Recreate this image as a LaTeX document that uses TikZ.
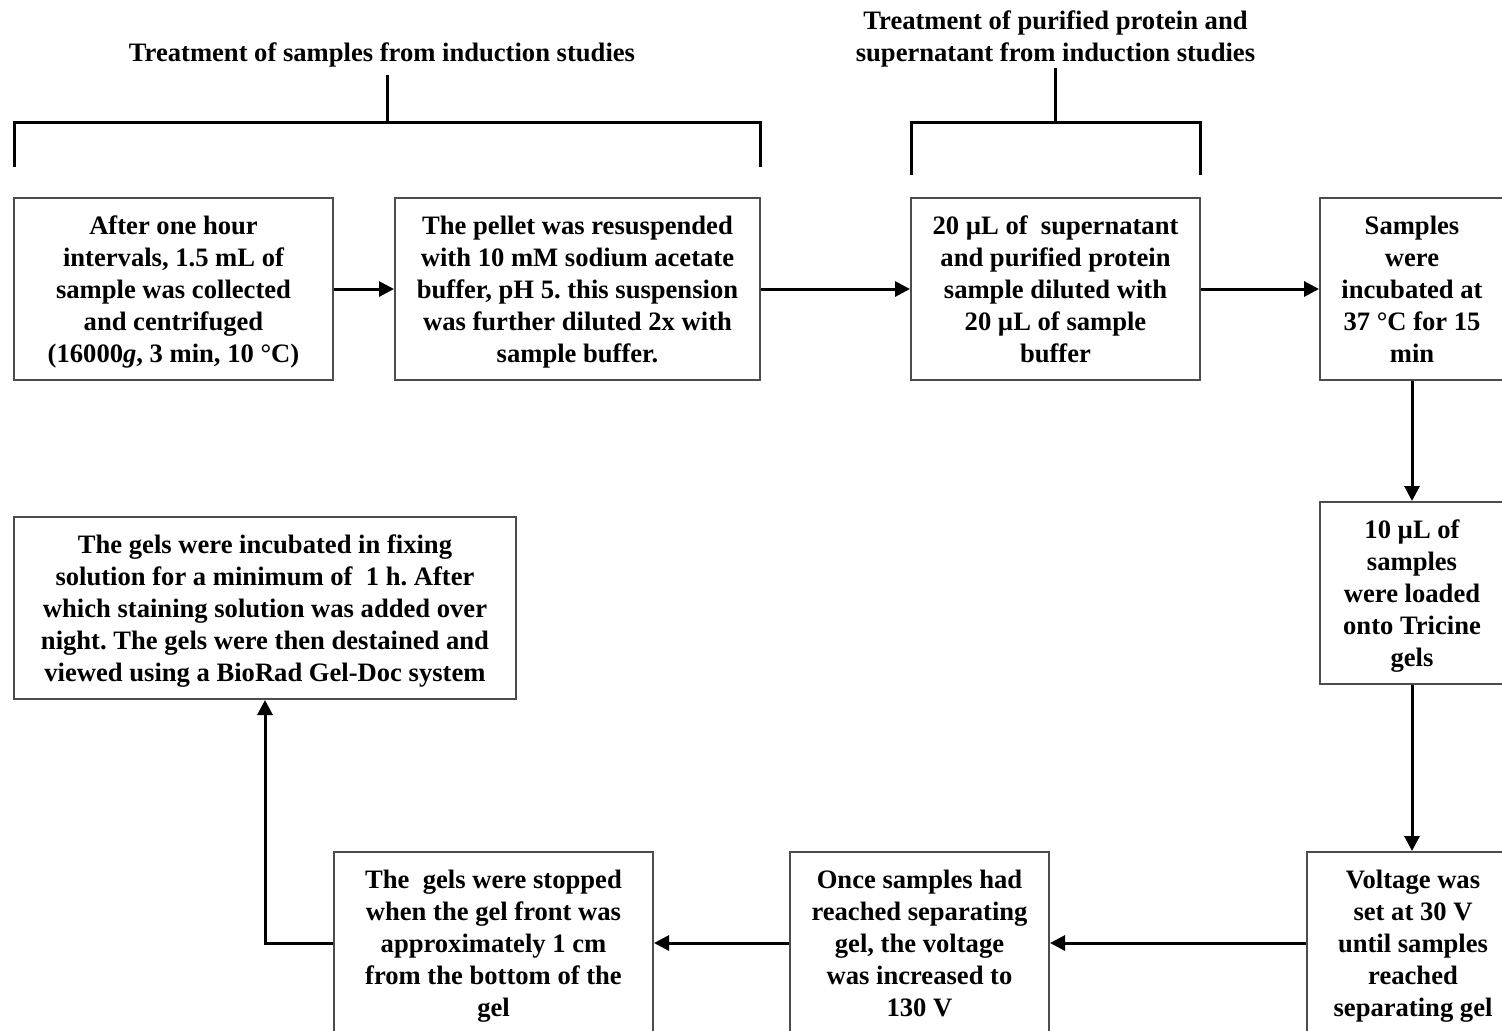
\documentclass[tikz,border=0pt]{standalone}
\usepackage{fontspec}
\setmainfont{Liberation Serif}
\usepackage{tikz}
\usetikzlibrary{arrows.meta, positioning}
\frenchspacing
\tikzset{
    stepbox/.style={rectangle, draw=gray!60!black, line width=1pt, fill=white, align=center, inner sep=0pt, font=\bfseries\fontsize{13.3}{16}\selectfont, execute at begin node=\strut, execute at end node=\strut, text depth=0pt},
    heading/.style={align=center, inner sep=0pt, font=\bfseries\fontsize{13.3}{16}\selectfont, execute at begin node=\strut, execute at end node=\strut, text depth=1pt},
    arrow/.style={-{Triangle[length=7.5pt,width=7.5pt]}, line width=1.5pt},
    bracket/.style={line width=1.5pt}
}

\begin{document}
\begin{tikzpicture}[
        x=0.5pt, y=-0.5pt,
        % Box sizes
        wide/.style={stepbox, minimum width=160pt, minimum height=91pt},
        narrow/.style={stepbox, minimum width=92pt, minimum height=91pt}
    ]

    \useasboundingbox (0,0) rectangle (1502,1030);

    % --- TOP ROW ---
    \node[wide, minimum width=159.5pt] (collect) at (173.5,289) {After one hour\\intervals, 1.5 mL of\\sample was collected\\and centrifuged\\(16000\textit{g}, 3 min, 10 °C)};
    \node[wide, minimum width=182.5pt] (pellet) at (577.5,289) {The pellet was resuspended\\with 10 mM sodium acetate\\buffer, pH 5. this suspension\\was further diluted 2x with\\sample buffer.};
    \node[wide, minimum width=144.5pt] (dilute) at (1055.5,289) {20 µL of\ \ supernatant\\and purified protein\\sample diluted with\\20 µL of sample\\buffer};
    \node[narrow] (incubate) at (1412,289) {Samples\\were\\incubated at\\37 °C for 15\\min};

    % --- RIGHT COLUMN ---
    \node[narrow] (load) at (1412,593) {10 µL of\\samples\\were loaded\\onto Tricine\\gels};
    \node[stepbox, minimum width=106pt, minimum height=91pt] (voltage) at (1413,943) {Voltage was\\set at 30 V\\until samples\\reached\\separating gel};

    % --- BOTTOM ROW ---
    \node[stepbox, minimum width=129.5pt, minimum height=91pt] (increase) at (919.5,943) {Once samples had\\reached separating\\gel, the voltage\\was increased to\\130 V};
    \node[stepbox, minimum width=159.5pt, minimum height=91pt] (stop) at (493.5,943) {The\ \ gels were stopped\\when the gel front was\\approximately 1 cm\\from the bottom of the\\gel};
    \node[stepbox, minimum width=251pt, minimum height=91pt] (fix) at (265,608) {The gels were incubated in fixing\\solution for a minimum of\ \ 1 h. After\\which staining solution was added over\\night. The gels were then destained and\\viewed using a BioRad Gel-Doc system};

    % --- HEADINGS AND BRACKETS ---
    \node[heading] (head1) at (382,51) {Treatment of samples from induction studies};
    \node[heading] (head2) at (1055.5,37) {Treatment of purified protein and\\supernatant from induction studies};

    \coordinate (br1L) at (14,167);
    \coordinate (br1R) at (760,167);
    \coordinate (br1M) at (387,122);
    \coordinate (br1T) at (387,75);
    \coordinate (br2L) at (911,175);
    \coordinate (br2R) at (1200,175);
    \coordinate (br2M) at (1055.5,122);
    \coordinate (br2T) at (1055.5,68);

    \draw[bracket] (br1L) |- (br1M) -| (br1R);
    \draw[bracket] (br1T) -- (br1M);
    \draw[bracket] (br2L) |- (br2M) -| (br2R);
    \draw[bracket] (br2T) -- (br2M);

    % --- CONNECTIONS ---
    \draw[arrow] (collect) -- (pellet);
    \draw[arrow] (pellet) -- (dilute);
    \draw[arrow] (dilute) -- (incubate);
    \draw[arrow] (incubate) -- (load);
    \draw[arrow] (load.south) -- (load.south |- voltage.north);
    \draw[arrow] (voltage) -- (increase);
    \draw[arrow] (increase) -- (stop);
    \draw[arrow] (stop.west) -| (fix.south);

\end{tikzpicture}
\end{document}
